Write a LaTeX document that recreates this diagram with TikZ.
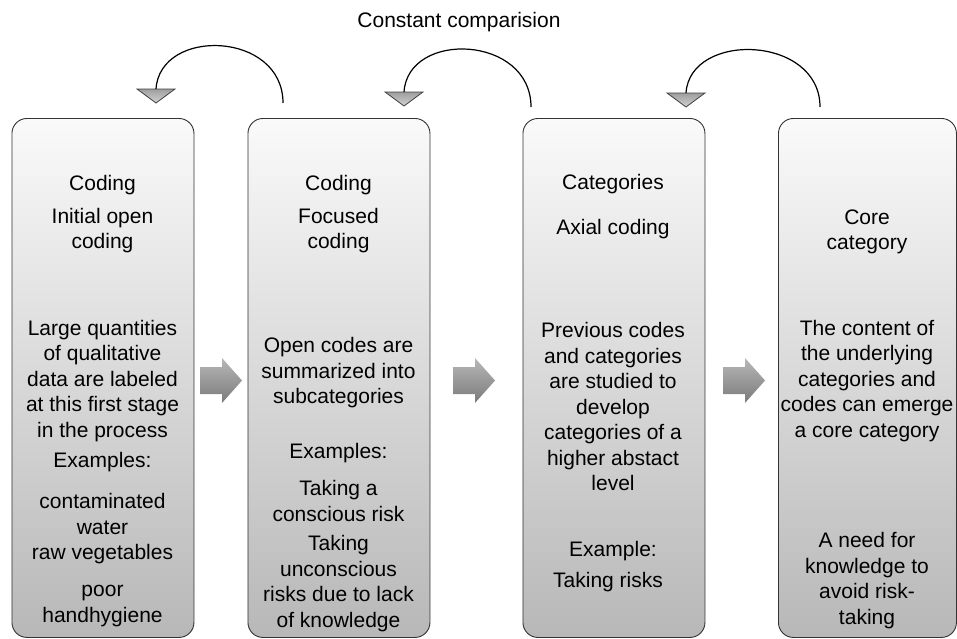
\documentclass[tikz,border=0pt]{standalone}
\usepackage{fontspec}
\setmainfont{Liberation Sans}
\begin{document}
\begin{tikzpicture}[x=1pt, y=-1pt, every node/.style={font=\fontsize{21}{25.5}\selectfont, align=center, inner sep=0pt}]
      \tikzset{
	  stage/.style={rectangle, rounded corners=15pt, draw=black!80, line width=0.9pt, top color=black!2, bottom color=black!28, minimum width=182pt, minimum height=519pt, anchor=north west},
	  marker/.style={draw=black!75, line width=0.8pt, top color=black!38, bottom color=black!18},
	  blockarrow/.style={top color=black!28, bottom color=black!52},
	  loop/.style={draw=black, line width=1.2pt}
      }
      \useasboundingbox (0,0) rectangle (957,638);

      \def\markerpath{-- +(38,0) -- +(19,14) -- cycle}
      \def\arrowpath{-- +(22,0) -- +(22,-9) -- +(42,13.5) -- +(22,36) -- +(22,27) -- +(0,27) -- cycle}

      % the four stages
      \node [stage] (open) at (11.5,118) {};
      \node [stage] (focused) at (247.5,118) {};
      \node [stage] (axial) at (522.5,118) {};
      \node [stage, minimum width=178pt] (core) at (778,118) {};

      \node (opentitle) at (102.5,185) {Coding};
      \node (opensub) at (102.5,230.5) {Initial open\\coding};
      \node (opentext) at (102.5,381) {Large quantities\\of qualitative\\data are labeled\\at this first stage\\in the process};
      \node (openex) at (102.5,462) {Examples:};
      \node (openexa) at (102.5,514) {contaminated\\water};
      \node (openexb) at (102.5,554) {raw vegetables};
      \node (openexc) at (102.5,606) {poor\\handhygiene};

      \node (focusedtitle) at (338.5,185) {Coding};
      \node (focusedsub) at (338.5,230.5) {Focused\\coding};
      \node (focusedtext) at (338.5,373) {Open codes are\\summarized into\\subcategories};
      \node (focusedex) at (338.5,453) {Examples:};
      \node (focusedexa) at (338.5,501) {Taking a\\conscious risk};
      \node (focusedexb) at (338.5,583.5) {Taking\\unconscious\\risks due to lack\\of knowledge};

      \node (axialtitle) at (613,184) {Categories};
      \node (axialsub) at (613,229) {Axial coding};
      \node (axialtext) at (613,406.5) {Previous codes\\and categories\\are studied to\\develop\\categories of a\\higher abstact\\level};
      \node (axialex) at (613,551) {Example:};
      \node (axialexa) at (608,582) {Taking risks};

      \node (coretitle) at (867,232) {Core\\category};
      \node (coretext) at (867,381) {The content of\\the underlying\\categories and\\codes can emerge\\a core category};
      \node (coreex) at (867,580.5) {A need for\\knowledge to\\avoid risk-\\taking};

      % arrows between stages
      \path [blockarrow] (200,367) \arrowpath;
      \path [blockarrow] (453,367) \arrowpath;
      \path [blockarrow] (723,367) \arrowpath;

      % constant comparison loops
      \node (compare) at (459,22) {Constant comparision};
      \draw [marker] (137,89) \markerpath;
      \draw [marker] (385,92) \markerpath;
      \draw [marker] (667,93) \markerpath;
      \coordinate (m1) at (156,89);
      \coordinate (m2) at (404,92);
      \coordinate (m3) at (686,93);
      \coordinate (l1) at (283,103);
      \coordinate (l2) at (531,107);
      \coordinate (l3) at (820,107);
      \draw [loop] (l1) .. controls +(0,-72) and +(4,-62) .. (m1);
      \draw [loop] (l2) .. controls +(0,-72) and +(4,-62) .. (m2);
      \draw [loop] (l3) .. controls +(0,-72) and +(4,-62) .. (m3);
\end{tikzpicture}
\end{document}
